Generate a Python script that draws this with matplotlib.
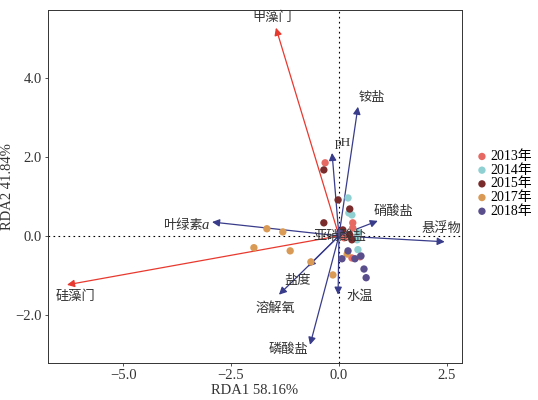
import numpy as np
import matplotlib
matplotlib.use("Agg")
import matplotlib.pyplot as plt

plt.rcParams['font.family'] = ['Liberation Serif', 'Noto Sans CJK SC']
plt.rcParams['axes.unicode_minus'] = True

# species arrows (red)
sp_names = ['甲藻门', '硅藻门']
sp_x = [-1.46, -6.30]
sp_y = [5.27, -1.24]
sp_lab_x = [-1.55, -6.11]
sp_lab_y = [5.52, -1.54]

# environment arrows (blue); 叶绿素a is labelled separately (italic a)
env_names = ['铵盐', 'pH', '硝酸盐', '悬浮物', '叶绿素', '盐度', '溶解氧', '磷酸盐', '水温', '亚硝酸盐']
env_x = [0.44, -0.16, 0.90, 2.45, -2.94, -0.72, -1.39, -0.67, -0.02, 0.12]
env_y = [3.27, 2.10, 0.38, -0.15, 0.35, -0.78, -1.49, -2.76, -1.49, 0.04]
env_lab_x = [0.76, 0.09, 1.27, 2.38, -3.62, -0.95, -1.48, -1.18, 0.49, 0.02]
env_lab_y = [3.49, 2.35, 0.61, 0.18, 0.25, -1.14, -1.85, -2.89, -1.54, -0.03]

# samples by year
years = ['2013年', '2014年', '2015年', '2017年', '2018年']
colors = ['#E66A63', '#8FD0D2', '#7A2B2B', '#D99A55', '#5A4E8C']
pts_x = [
    [-0.32, 0.32, 0.32, 0.30, 0.49, 0.12],
    [0.21, 0.23, 0.30, 0.44, 0.44, 0.42],
    [-0.35, -0.02, 0.25, -0.35, 0.25, 0.30, 0.09],
    [-1.67, -1.30, -1.97, -1.13, -0.65, -0.14, 0.19],
    [0.21, 0.07, 0.37, 0.51, 0.58, 0.63, 0.02],
]
pts_y = [
    [1.85, 0.33, 0.20, -0.56, -0.53, -0.05],
    [0.96, 0.58, 0.53, 0.08, -0.35, -0.10],
    [1.67, 0.91, 0.68, 0.33, 0.03, -0.10, 0.15],
    [0.18, 0.10, -0.30, -0.38, -0.66, -0.99, -0.46],
    [-0.38, -0.58, -0.58, -0.51, -0.84, -1.06, 0.08],
]

red = '#E8392F'
blue = '#383C8A'
txt = '#333333'

fig = plt.figure(figsize=(5.38, 4.0), dpi=100)
ax = fig.add_axes([0.0892, 0.0925, 0.7695, 0.8825])

ax.axhline(0, color='black', ls=(0, (1.5, 3)), lw=0.8, zorder=1)
ax.axvline(0, color='black', ls=(0, (1.5, 3)), lw=0.8, zorder=1)

for i in range(len(years)):
    ax.scatter(pts_x[i], pts_y[i], s=28, color=colors[i], label=years[i],
               edgecolors='none', zorder=3)

for i in range(len(sp_names)):
    ax.annotate('', xy=(sp_x[i], sp_y[i]), xytext=(0, 0),
                arrowprops=dict(arrowstyle='-|>', color=red, lw=0.9,
                                mutation_scale=11, shrinkA=0, shrinkB=0), zorder=2)
    ax.text(sp_lab_x[i], sp_lab_y[i], sp_names[i], ha='center', va='center',
            fontsize=9.5, color=txt, zorder=4)

for i in range(len(env_names)):
    ax.annotate('', xy=(env_x[i], env_y[i]), xytext=(0, 0),
                arrowprops=dict(arrowstyle='-|>', color=blue, lw=0.9,
                                mutation_scale=11, shrinkA=0, shrinkB=0), zorder=2)
    ax.text(env_lab_x[i], env_lab_y[i], env_names[i], ha='center', va='center',
            fontsize=9.5, color=txt, zorder=4)

# italic "a" after 叶绿素
ax.text(-3.62 + 0.52, 0.25, 'a', ha='center', va='center', fontsize=10.5,
        style='italic', color=txt, zorder=4)

ax.set_xlim(-6.74, 2.85)
ax.set_ylim(-3.22, 5.72)
ax.set_xticks([-5.0, -2.5, 0.0, 2.5])
ax.set_yticks([-2.0, 0.0, 2.0, 4.0])
ax.xaxis.set_major_formatter(plt.FuncFormatter(lambda v, p: f'{v:.1f}'.replace('-', '\u2212')))
ax.yaxis.set_major_formatter(plt.FuncFormatter(lambda v, p: f'{v:.1f}'.replace('-', '\u2212')))
ax.tick_params(labelsize=10.5, colors=txt, length=2.5, width=0.6, pad=2)
for sp in ax.spines.values():
    sp.set_linewidth(0.7)
    sp.set_color(txt)
ax.set_xlabel('RDA1 58.16%', fontsize=10.5, color=txt, labelpad=1)
ax.set_ylabel('RDA2 41.84%', fontsize=10.5, color=txt, labelpad=1)

fig.legend(loc='center left', bbox_to_anchor=(0.87, 0.54), frameon=False,
           fontsize=10, handletextpad=0.0, labelspacing=0.05, markerscale=1.0,
           borderaxespad=0, handlelength=1.2)

fig.savefig('out.png', dpi=100)
